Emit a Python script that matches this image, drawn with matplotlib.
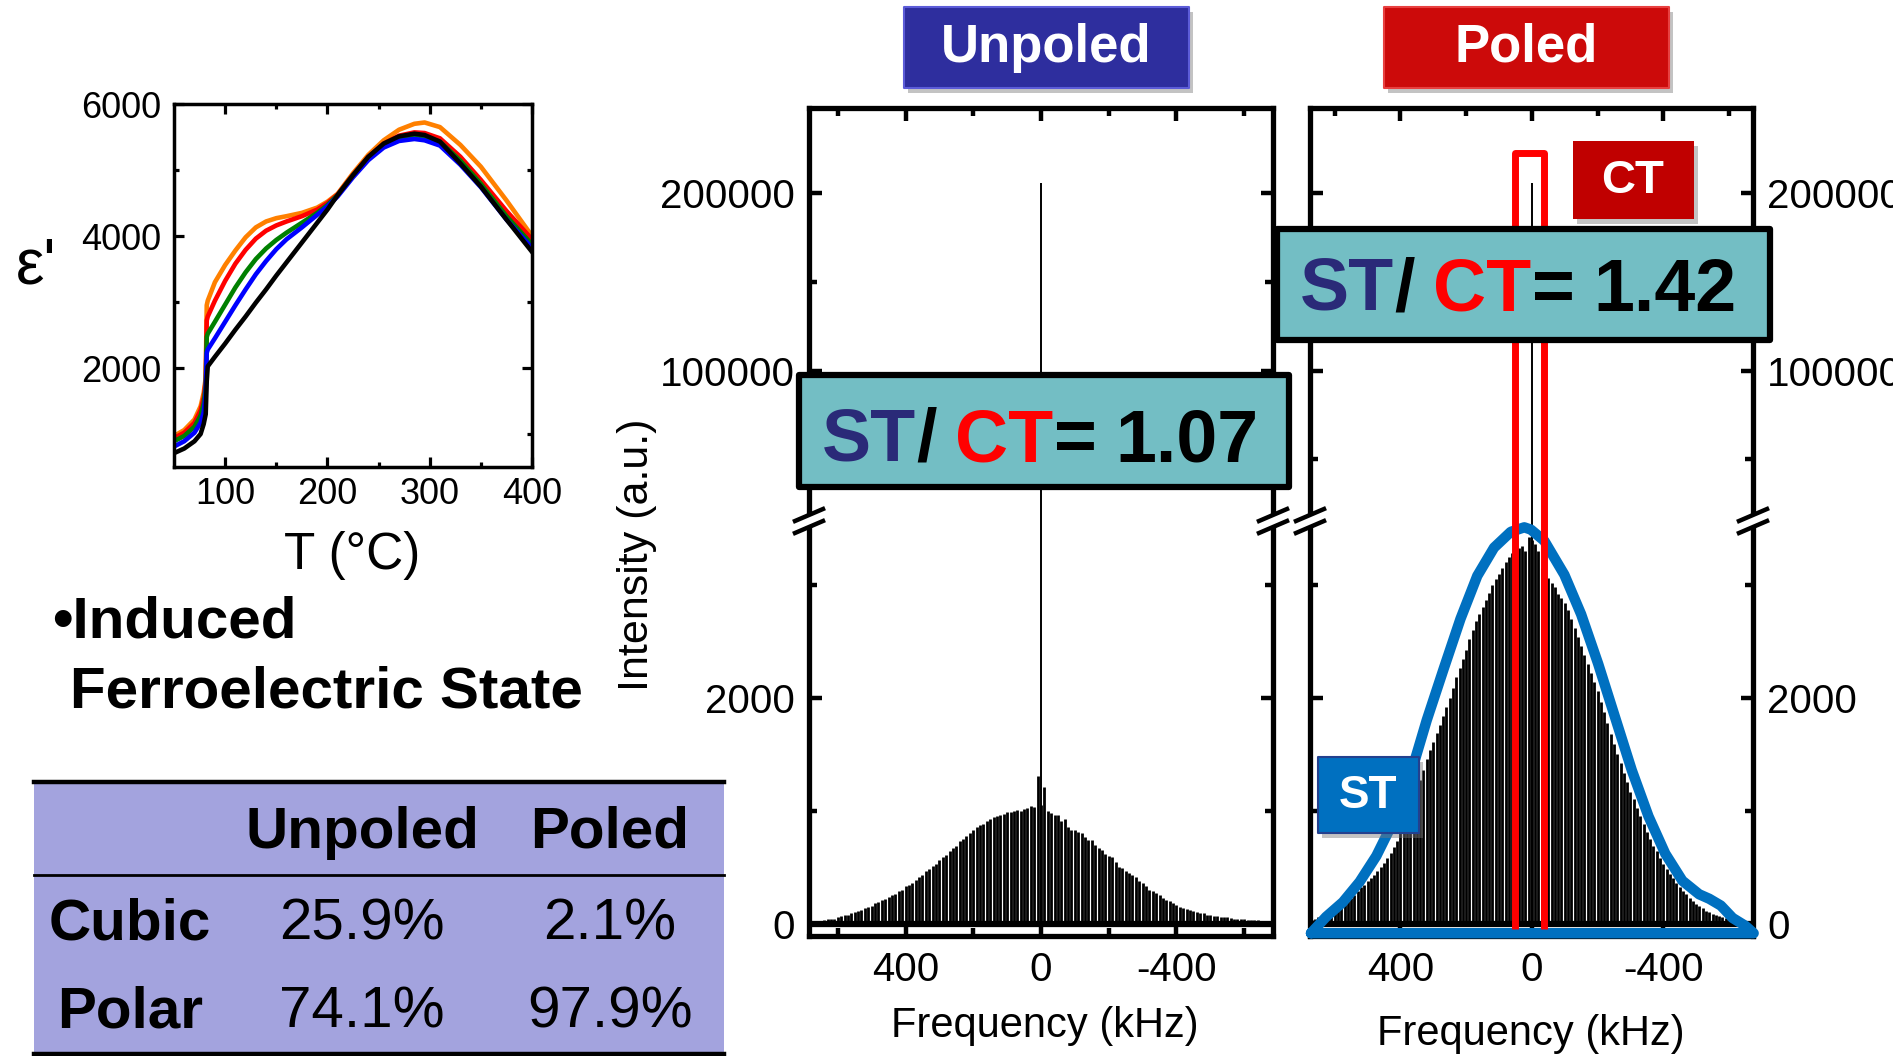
import numpy as np
import matplotlib
matplotlib.use("Agg")
import matplotlib.pyplot as plt
from matplotlib.patches import Rectangle, Polygon
from matplotlib.lines import Line2D
from matplotlib.text import Annotation
from matplotlib.ticker import FixedLocator, FuncFormatter
from matplotlib import font_manager as fm

# ------------------------------------------------------------------ data
# dielectric permittivity vs temperature (five curves)
temp_c = [50, 60, 70, 76, 79, 81, 82, 83, 90, 100, 110, 120, 130, 140, 150, 160,
          175, 190, 200, 210, 225, 240, 255, 270, 285, 295, 310, 330, 350, 375, 400]
eps_orange = [970, 1060, 1220, 1420, 1620, 1850, 2950, 3020, 3300, 3560, 3780, 3980, 4130, 4220, 4270, 4300,
              4350, 4430, 4520, 4640, 4950, 5230, 5450, 5610, 5700, 5720, 5650, 5380, 5050, 4540, 4000]
eps_red = [940, 1020, 1170, 1360, 1550, 1800, 2720, 2780, 3020, 3320, 3580, 3790, 3960, 4080, 4160, 4220,
           4300, 4400, 4500, 4630, 4930, 5200, 5400, 5520, 5570, 5560, 5480, 5200, 4850, 4380, 3950]
eps_green = [890, 970, 1110, 1280, 1460, 1720, 2470, 2520, 2700, 2960, 3220, 3450, 3650, 3810, 3940, 4050,
             4200, 4350, 4470, 4620, 4920, 5190, 5380, 5490, 5530, 5510, 5430, 5140, 4790, 4300, 3870]
eps_blue = [810, 890, 1020, 1170, 1330, 1600, 2230, 2280, 2450, 2700, 2950, 3190, 3420, 3620, 3800, 3950,
            4130, 4320, 4450, 4600, 4890, 5150, 5340, 5440, 5470, 5450, 5370, 5080, 4740, 4250, 3820]
eps_black = [710, 780, 890, 1000, 1150, 1300, 1800, 2025, 2170, 2370, 2580, 2780, 2990, 3190, 3400, 3600,
             3900, 4200, 4400, 4620, 4920, 5200, 5400, 5510, 5550, 5530, 5430, 5100, 4750, 4250, 3760]
eps_curves = [eps_orange, eps_red, eps_green, eps_blue, eps_black]
eps_colors = ["#FF8000", "#FF0000", "#008000", "#0000FF", "#000000"]

# spinning-sideband manifolds (heights read at each sideband, +680 ... -680 kHz)
sideband_step_khz = 10
sb_pos_khz = np.arange(680, 0, -sideband_step_khz)      # 680 ... 10
sb_neg_khz = -sb_pos_khz[::-1]                           # -10 ... -680

unpoled_st_pos = [15, 18, 20, 25, 30, 40, 45, 45, 55, 70,
                  80, 80, 95, 105, 115, 120, 135, 150, 160, 180,
                  190, 205, 220, 235, 250, 265, 285, 300, 330, 340,
                  360, 390, 410, 430, 465, 480, 510, 530, 560, 590,
                  610, 640, 670, 690, 735, 750, 780, 800, 830, 855,
                  870, 885, 905, 930, 940, 950, 965, 975, 990, 990,
                  1000, 1010, 995, 1015, 1020, 1040, 1035, 1310]
unpoled_center_sb = 1050
unpoled_st_neg = [1210, 1000, 980, 965, 960, 905, 930, 860, 830, 830,
                  810, 800, 770, 745, 740, 700, 670, 650, 620, 600,
                  590, 545, 505, 490, 470, 450, 430, 410, 380, 360,
                  330, 300, 290, 270, 255, 230, 205, 200, 185, 165,
                  150, 140, 130, 120, 110, 105, 95, 90, 80, 75,
                  70, 65, 60, 60, 55, 50, 45, 45, 40, 38,
                  35, 32, 30, 28, 25, 20, 18, 15]

poled_st_pos = [20, 30, 40, 55, 70, 80, 95, 110, 125, 140,
                155, 170, 200, 225, 250, 285, 320, 345, 375, 400,
                430, 465, 500, 535, 580, 625, 680, 735, 800, 860,
                930, 1000, 1090, 1180, 1270, 1360, 1460, 1540, 1610, 1690,
                1760, 1840, 1920, 2000, 2090, 2180, 2260, 2340, 2420, 2520,
                2600, 2680, 2740, 2800, 2870, 2930, 3000, 3050, 3100, 3150,
                3200, 3250, 3280, 3310, 3330, 3345, 3300, 3420]
poled_center_sb = 3400
poled_st_neg = [3360, 3300, 3150, 3130, 3060, 3020, 2980, 2920, 2880, 2840,
                2780, 2700, 2620, 2540, 2460, 2380, 2300, 2220, 2140, 2060,
                1960, 1870, 1780, 1680, 1590, 1500, 1420, 1330, 1250, 1170,
                1100, 1020, 950, 880, 810, 750, 690, 640, 580, 530,
                480, 440, 400, 360, 320, 290, 260, 230, 200, 175,
                155, 135, 115, 100, 85, 75, 65, 55, 50, 45,
                40, 35, 30, 28, 25, 22, 20, 18]

ct_peak_unpoled = 206000
ct_peak_poled = 206000

# ST envelope (blue outline) of the poled spectrum
st_fit_khz = [672, 626, 575, 524, 473, 422, 371, 320, 269, 217, 166, 115, 64, 23, 3,
              -38, -99, -150, -202, -253, -304, -355, -406, -458, -509, -540, -575, -611, -650, -675]
st_fit_int = [-85, 60, 190, 370, 600, 900, 1300, 1800, 2250, 2700, 3080, 3330, 3470, 3510, 3490,
              3390, 3090, 2740, 2300, 1830, 1360, 950, 620, 380, 260, 220, 160, 50, -20, -85]

# CT integration window (poled)
ct_window_khz = [50, -36]
ct_window_top = 222600

ratio_unpoled = 1.07
ratio_poled = 1.42

table_cols = ["Unpoled", "Poled"]
table_rows = ["Cubic", "Polar"]
cubic_pct = [25.9, 2.1]
polar_pct = [74.1, 97.9]

assert len(unpoled_st_pos) == len(sb_pos_khz) == len(unpoled_st_neg) == len(poled_st_pos) == len(poled_st_neg)

# ------------------------------------------------------------------ style
plt.rcParams["font.family"] = ["Liberation Sans", "DejaVu Sans"]
plt.rcParams["axes.unicode_minus"] = False


def has_font(name):
    try:
        fm.findfont(fm.FontProperties(family=name), fallback_to_default=False)
        return True
    except Exception:
        return False


NARROW = has_font("Liberation Sans Narrow")
NARROW_FAM = ["Liberation Sans Narrow", "Liberation Sans", "DejaVu Sans"] if NARROW else ["Liberation Sans", "DejaVu Sans"]
TABLE_FS = 49 if NARROW else 42
HEAD_FS = 45 if NARROW else 38

W, H = 1893, 1056
fig = plt.figure(figsize=(W / 100, H / 100), dpi=100)
fig.patch.set_facecolor("white")


def fx(px):
    return px / W


def fy(py):
    return 1 - py / H


def rect(l, t, r, b):
    return [l / W, 1 - b / H, (r - l) / W, (b - t) / H]


def fig_box(l, t, r, b, fc, ec="none", lw=0, z=10, shadow=False):
    if shadow:
        fig.add_artist(Rectangle((fx(l + 4), fy(b + 5)), (r - l) / W, (b - t) / H,
                                 transform=fig.transFigure, fc="#7a7a7a", ec="none",
                                 alpha=0.45, zorder=z - 0.5))
    fig.add_artist(Rectangle((fx(l), fy(b)), (r - l) / W, (b - t) / H,
                             transform=fig.transFigure, fc=fc, ec=ec, lw=lw,
                             joinstyle="round", zorder=z))


# ------------------------------------------------------------------ dielectric panel
axd = fig.add_axes(rect(174, 104, 532, 467))
for vals, col in zip(eps_curves, eps_colors):
    axd.plot(temp_c, vals, color=col, lw=3.3, solid_joinstyle="round")
axd.set_xlim(50, 400)
axd.set_ylim(500, 6000)
axd.xaxis.set_major_locator(FixedLocator([100, 200, 300, 400]))
axd.xaxis.set_minor_locator(FixedLocator([150, 250, 350]))
axd.yaxis.set_major_locator(FixedLocator([2000, 4000, 6000]))
axd.yaxis.set_minor_locator(FixedLocator([1000, 3000, 5000]))
axd.tick_params(which="both", direction="in", top=True, right=True, width=2.3, labelsize=26)
axd.tick_params(axis="x", which="both", pad=7)
axd.tick_params(axis="y", which="both", pad=9)
axd.tick_params(which="major", length=7)
axd.tick_params(which="minor", length=3.5)
for s in axd.spines.values():
    s.set_linewidth(2.5)

fig.text(fx(352), fy(555), "T (°C)", fontsize=37, ha="center", va="center")
fig.text(fx(36), fy(266), "ε'", fontsize=46, ha="center", va="center")

fig.text(fx(52), fy(623), "•Induced", fontsize=42, fontweight="bold", ha="left", va="center")
fig.text(fx(70), fy(692), "Ferroelectric State", fontsize=42, fontweight="bold", ha="left", va="center")

# ------------------------------------------------------------------ table
TL, TR, TT, TM, TB = 34, 724, 782, 875, 1054
fig_box(TL, TT, TR, TB, fc="#A3A3DE", z=2)
for yy, lw in ((TT, 3.2), (TM, 2.0), (TB, 3.2)):
    fig.add_artist(Line2D([fx(TL), fx(TR)], [fy(yy), fy(yy)], transform=fig.transFigure,
                          color="black", lw=lw, zorder=3))
col_x = [362, 610]
row_y = [924, 1012]
for cx, name in zip(col_x, table_cols):
    fig.text(fx(cx), fy(833), name, family=NARROW_FAM, fontsize=TABLE_FS, fontweight="bold",
             ha="center", va="center", zorder=4)
for ry, name, vals in zip(row_y, table_rows, (cubic_pct, polar_pct)):
    fig.text(fx(130), fy(ry), name, family=NARROW_FAM, fontsize=TABLE_FS, fontweight="bold",
             ha="center", va="center", zorder=4)
    for cx, v in zip(col_x, vals):
        fig.text(fx(cx), fy(ry), f"{v:.1f}%", family=NARROW_FAM, fontsize=TABLE_FS,
                 ha="center", va="center", zorder=4)

# ------------------------------------------------------------------ NMR panels
TOP, BRK, BOT = 107.5, 521, 935.7
NMR_FS = 29


def nmr_panel(x0, x1, st_pos, center_sb, st_neg, ct_peak, xlim, right_labels):
    up = fig.add_axes(rect(x0, TOP, x1, BRK))
    lo = fig.add_axes(rect(x0, BRK, x1, BOT))
    freqs = np.concatenate([sb_pos_khz, [0], sb_neg_khz])
    heights = np.concatenate([st_pos, [center_sb], st_neg])
    lo.vlines(freqs, 0, heights, colors="black", lw=2.0, zorder=2)
    lo.plot(freqs, np.zeros_like(freqs), color="black", lw=4.5, zorder=2)
    for ax in (up, lo):
        ax.vlines([0], 0, ct_peak, colors="black", lw=1.4, zorder=2)
        ax.set_xlim(*xlim)
        ax.xaxis.set_major_locator(FixedLocator([400, 0, -400]))
        ax.xaxis.set_minor_locator(FixedLocator([600, 200, -200, -600]))
        ax.tick_params(which="both", direction="in", left=True, right=True, width=3.2,
                       labelsize=NMR_FS, labelleft=not right_labels, labelright=right_labels)
        ax.tick_params(axis="y", which="both", pad=10)
        ax.tick_params(which="major", length=9)
        ax.tick_params(which="minor", length=6)
        ax.yaxis.set_major_formatter(FuncFormatter(lambda v, p: f"{v:.0f}"))
        for s in ax.spines.values():
            s.set_linewidth(3.8)
    up.set_ylim(15200, 248300)
    up.yaxis.set_major_locator(FixedLocator([100000, 200000]))
    up.yaxis.set_minor_locator(FixedLocator([50000, 150000]))
    up.tick_params(axis="x", which="both", bottom=False, top=True, labelbottom=False)
    up.spines["bottom"].set_visible(False)
    lo.set_ylim(-107, 3566)
    lo.yaxis.set_major_locator(FixedLocator([0, 2000]))
    lo.yaxis.set_minor_locator(FixedLocator([1000, 3000]))
    lo.tick_params(axis="x", which="both", bottom=True, top=False, pad=11)
    lo.xaxis.set_major_formatter(FuncFormatter(lambda v, p: f"{v:.0f}"))
    lo.spines["top"].set_visible(False)
    return up, lo


def break_mark(xpx, ypx):
    dx, dy, sep = 14, 6, 6
    pts = [(xpx - dx, ypx - sep + dy), (xpx + dx, ypx - sep - dy),
           (xpx + dx, ypx + sep - dy), (xpx - dx, ypx + sep + dy)]
    fig.add_artist(Polygon([(fx(a), fy(b)) for a, b in pts], closed=True,
                           transform=fig.transFigure, fc="white", ec="none", zorder=7))
    for off in (-sep, sep):
        fig.add_artist(Line2D([fx(xpx - dx), fx(xpx + dx)], [fy(ypx + off + dy), fy(ypx + off - dy)],
                              transform=fig.transFigure, color="black", lw=3.2, zorder=8))


U0, U1 = 809, 1273
P0, P1 = 1310, 1753
up_u, lo_u = nmr_panel(U0, U1, unpoled_st_pos, unpoled_center_sb, unpoled_st_neg,
                       ct_peak_unpoled, (685, -685), False)
up_p, lo_p = nmr_panel(P0, P1, poled_st_pos, poled_center_sb, poled_st_neg,
                       ct_peak_poled, (675, -673), True)
for xs in (U0, U1, P0, P1):
    break_mark(xs, BRK)

# blue ST envelope (closed along the baseline)
lo_p.plot(np.r_[st_fit_khz, st_fit_khz[0]], np.r_[st_fit_int, st_fit_int[0]],
          color="#0070C0", lw=7.5, solid_joinstyle="round", solid_capstyle="round",
          clip_on=False, zorder=4)

# red CT window
x_lo, x_hi = min(ct_window_khz), max(ct_window_khz)
up_p.add_patch(Rectangle((x_lo, -1e6), x_hi - x_lo, ct_window_top + 1e6, fill=False,
                         ec="#FF0000", lw=5, joinstyle="round", zorder=5))
lo_p.vlines(ct_window_khz, -45, ct_window_top, colors="#FF0000", lw=5, zorder=5)

fig.text(fx(637), fy(555), "Intensity (a.u.)", fontsize=31, rotation=90, ha="center", va="center")
fig.text(fx(1045), fy(1026), "Frequency (kHz)", fontsize=30, ha="center", va="center")
fig.text(fx(1531), fy(1034), "Frequency (kHz)", fontsize=30, ha="center", va="center")

# ------------------------------------------------------------------ annotation boxes
NAVY = "#2A2A78"
TEAL = "#73BEC4"


def ratio_label(l, t, r, b, x_text, base, value):
    fig_box(l, t, r, b, fc=TEAL, ec="black", lw=4.5, z=10)
    kw = dict(fontsize=53, fontweight="bold", zorder=12)
    first = fig.text(fx(x_text), fy(base), "ST", color=NAVY, ha="left", va="baseline", **kw)
    prev = first
    for s, c, gap in (("/", "black", 0), ("CT", "#FF0000", 13), ("=", "black", 1),
                      (f"{value:.2f}", "black", 13)):
        a = Annotation(s, xy=(1, 0), xycoords=prev, xytext=(gap, 0), textcoords="offset points",
                       ha="left", va="bottom", color=c, **kw)
        fig.add_artist(a)
        prev = a


ratio_label(799, 375, 1289, 487, 822, 461, ratio_unpoled)
ratio_label(1277, 229, 1770, 340, 1300, 311, ratio_poled)

# header boxes
fig_box(904, 7, 1189, 88, fc="#2E2E9E", ec="#5C5CD8", lw=1.5, z=10, shadow=True)
fig.text(fx(1046), fy(48), "Unpoled", family=NARROW_FAM, fontsize=HEAD_FS, fontweight="bold",
         color="white", ha="center", va="center", zorder=12)
fig_box(1384, 7, 1669, 88, fc="#CC0A0A", ec="#E84040", lw=1.5, z=10, shadow=True)
fig.text(fx(1526), fy(48), "Poled", family=NARROW_FAM, fontsize=HEAD_FS, fontweight="bold",
         color="white", ha="center", va="center", zorder=12)

# CT and ST tags
fig_box(1573, 141, 1694, 219, fc="#C00000", z=10, shadow=True)
fig.text(fx(1633), fy(181), "CT", fontsize=34, fontweight="bold", color="white",
         ha="center", va="center", zorder=12)
fig_box(1318, 757, 1419, 833, fc="#0070C0", ec="#23408E", lw=1.5, z=10, shadow=True)
fig.text(fx(1368), fy(796), "ST", fontsize=33, fontweight="bold", color="white",
         ha="center", va="center", zorder=12)

fig.savefig("out.png", dpi=100, facecolor="white")
